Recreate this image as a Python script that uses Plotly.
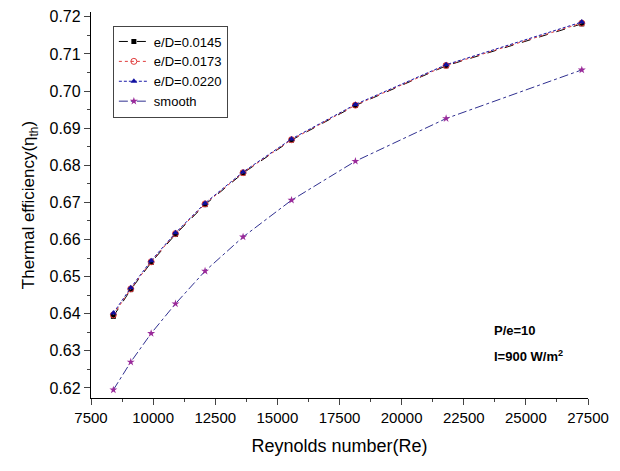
import plotly.graph_objects as go

re_vals = [8400, 9100, 9920, 10900, 12090, 13620, 15570, 18140, 21790, 27250]
eta_0145 = [0.6393, 0.6465, 0.6538, 0.6614, 0.6694, 0.6779, 0.6868, 0.6961, 0.7068, 0.7181]
eta_0173 = [0.6397, 0.6467, 0.6540, 0.6616, 0.6696, 0.6780, 0.6869, 0.6962, 0.7069, 0.7183]
eta_0220 = [0.6402, 0.6470, 0.6543, 0.6618, 0.6698, 0.6782, 0.6871, 0.6964, 0.7071, 0.7186]
eta_smooth = [0.6195, 0.6270, 0.6347, 0.6427, 0.6515, 0.6607, 0.6706, 0.6811, 0.6926, 0.7057]

x_range = [7500, 27500]
y_range = [0.6173, 0.7213]
x_ticks = [7500, 10000, 12500, 15000, 17500, 20000, 22500, 25000, 27500]
x_ticktext = ["7500", "10000", "12500", "15000", "17500", "20000", "22500", "25000", "27500"]
y_ticks = [0.62, 0.63, 0.64, 0.65, 0.66, 0.67, 0.68, 0.69, 0.70, 0.71, 0.72]
y_ticktext = ["0.62", "0.63", "0.64", "0.65", "0.66", "0.67", "0.68", "0.69", "0.70", "0.71", "0.72"]

FONT = "Liberation Sans, Arial, sans-serif"

fig = go.Figure()
fig.add_trace(go.Scatter(
    x=re_vals, y=eta_0145, name="e/D=0.0145", mode="lines+markers",
    line=dict(color="black", width=1, dash="dash"),
    marker=dict(symbol="square", size=5, color="black")))
fig.add_trace(go.Scatter(
    x=re_vals, y=eta_0173, name="e/D=0.0173", mode="lines+markers",
    line=dict(color="#e03a3a", width=1, dash="dot"),
    marker=dict(symbol="circle-open", size=6, color="#e03a3a", line=dict(width=1))))
fig.add_trace(go.Scatter(
    x=re_vals, y=eta_0220, name="e/D=0.0220", mode="lines+markers",
    line=dict(color="#1a1aa8", width=1, dash="3px,2px"),
    marker=dict(symbol="triangle-up", size=6, color="#1010a0")))
fig.add_trace(go.Scatter(
    x=re_vals, y=eta_smooth, name="smooth", mode="lines+markers",
    line=dict(color="#303090", width=1, dash="dashdot"),
    marker=dict(symbol="star", size=6, color="#9a2a9a")))

fig.update_layout(
    width=620, height=471,
    margin=dict(l=91, r=32, t=8, b=73),
    paper_bgcolor="white", plot_bgcolor="white",
    font=dict(family=FONT, color="black"),
    showlegend=True,
    legend=dict(x=0.044, y=0.965, xanchor="left", yanchor="top",
                bordercolor="#444", borderwidth=1, bgcolor="white",
                font=dict(size=13, family=FONT), tracegroupgap=0,
                itemwidth=30),
    xaxis=dict(range=x_range, tickvals=x_ticks, ticktext=x_ticktext, ticks="outside", ticklen=6,
               tickwidth=1.2, linecolor="black", linewidth=1.3, showline=True,
               showgrid=False, zeroline=False, tickfont=dict(size=15),
               minor=dict(ticks="outside", ticklen=3, dtick=1250, tick0=7500, tickwidth=1.2),
               title=dict(text="Reynolds number(Re)", font=dict(size=18), standoff=14)),
    yaxis=dict(range=y_range, tickvals=y_ticks, ticktext=y_ticktext, ticks="outside",
               ticklen=6, tickwidth=1.2, linecolor="black", linewidth=1.3, showline=True,
               showgrid=False, zeroline=False, tickfont=dict(size=16),
               minor=dict(ticks="outside", ticklen=3, dtick=0.005, tick0=0.62, tickwidth=1.2),
               title=dict(text="Thermal efficiency(η<sub>th</sub>)", font=dict(size=17), standoff=10)),
    xaxis2=dict(range=x_range, overlaying="x", side="top", tickvals=x_ticks, ticks="inside",
                ticklen=6, tickwidth=1.2, showticklabels=False, showline=True,
                linecolor="black", linewidth=1.3, showgrid=False, zeroline=False,
                minor=dict(ticks="inside", ticklen=3, dtick=1250, tick0=7500, tickwidth=1.2)),
    yaxis2=dict(range=y_range, overlaying="y", side="right", tickvals=y_ticks, ticks="inside",
                ticklen=6, tickwidth=1.2, showticklabels=False, showline=True,
                linecolor="black", linewidth=1.3, showgrid=False, zeroline=False,
                minor=dict(ticks="inside", ticklen=3, dtick=0.005, tick0=0.62, tickwidth=1.2)),
)

fig.add_annotation(x=0.807, y=0.175, xref="paper", yref="paper", xanchor="left",
                   yanchor="middle", showarrow=False, text="<b>P/e=10</b>",
                   font=dict(size=13, family=FONT))
fig.add_annotation(x=0.807, y=0.108, xref="paper", yref="paper", xanchor="left",
                   yanchor="middle", showarrow=False, text="<b>I=900 W/m<sup>2</sup></b>",
                   font=dict(size=13, family=FONT))

fig.write_html("out.html")
